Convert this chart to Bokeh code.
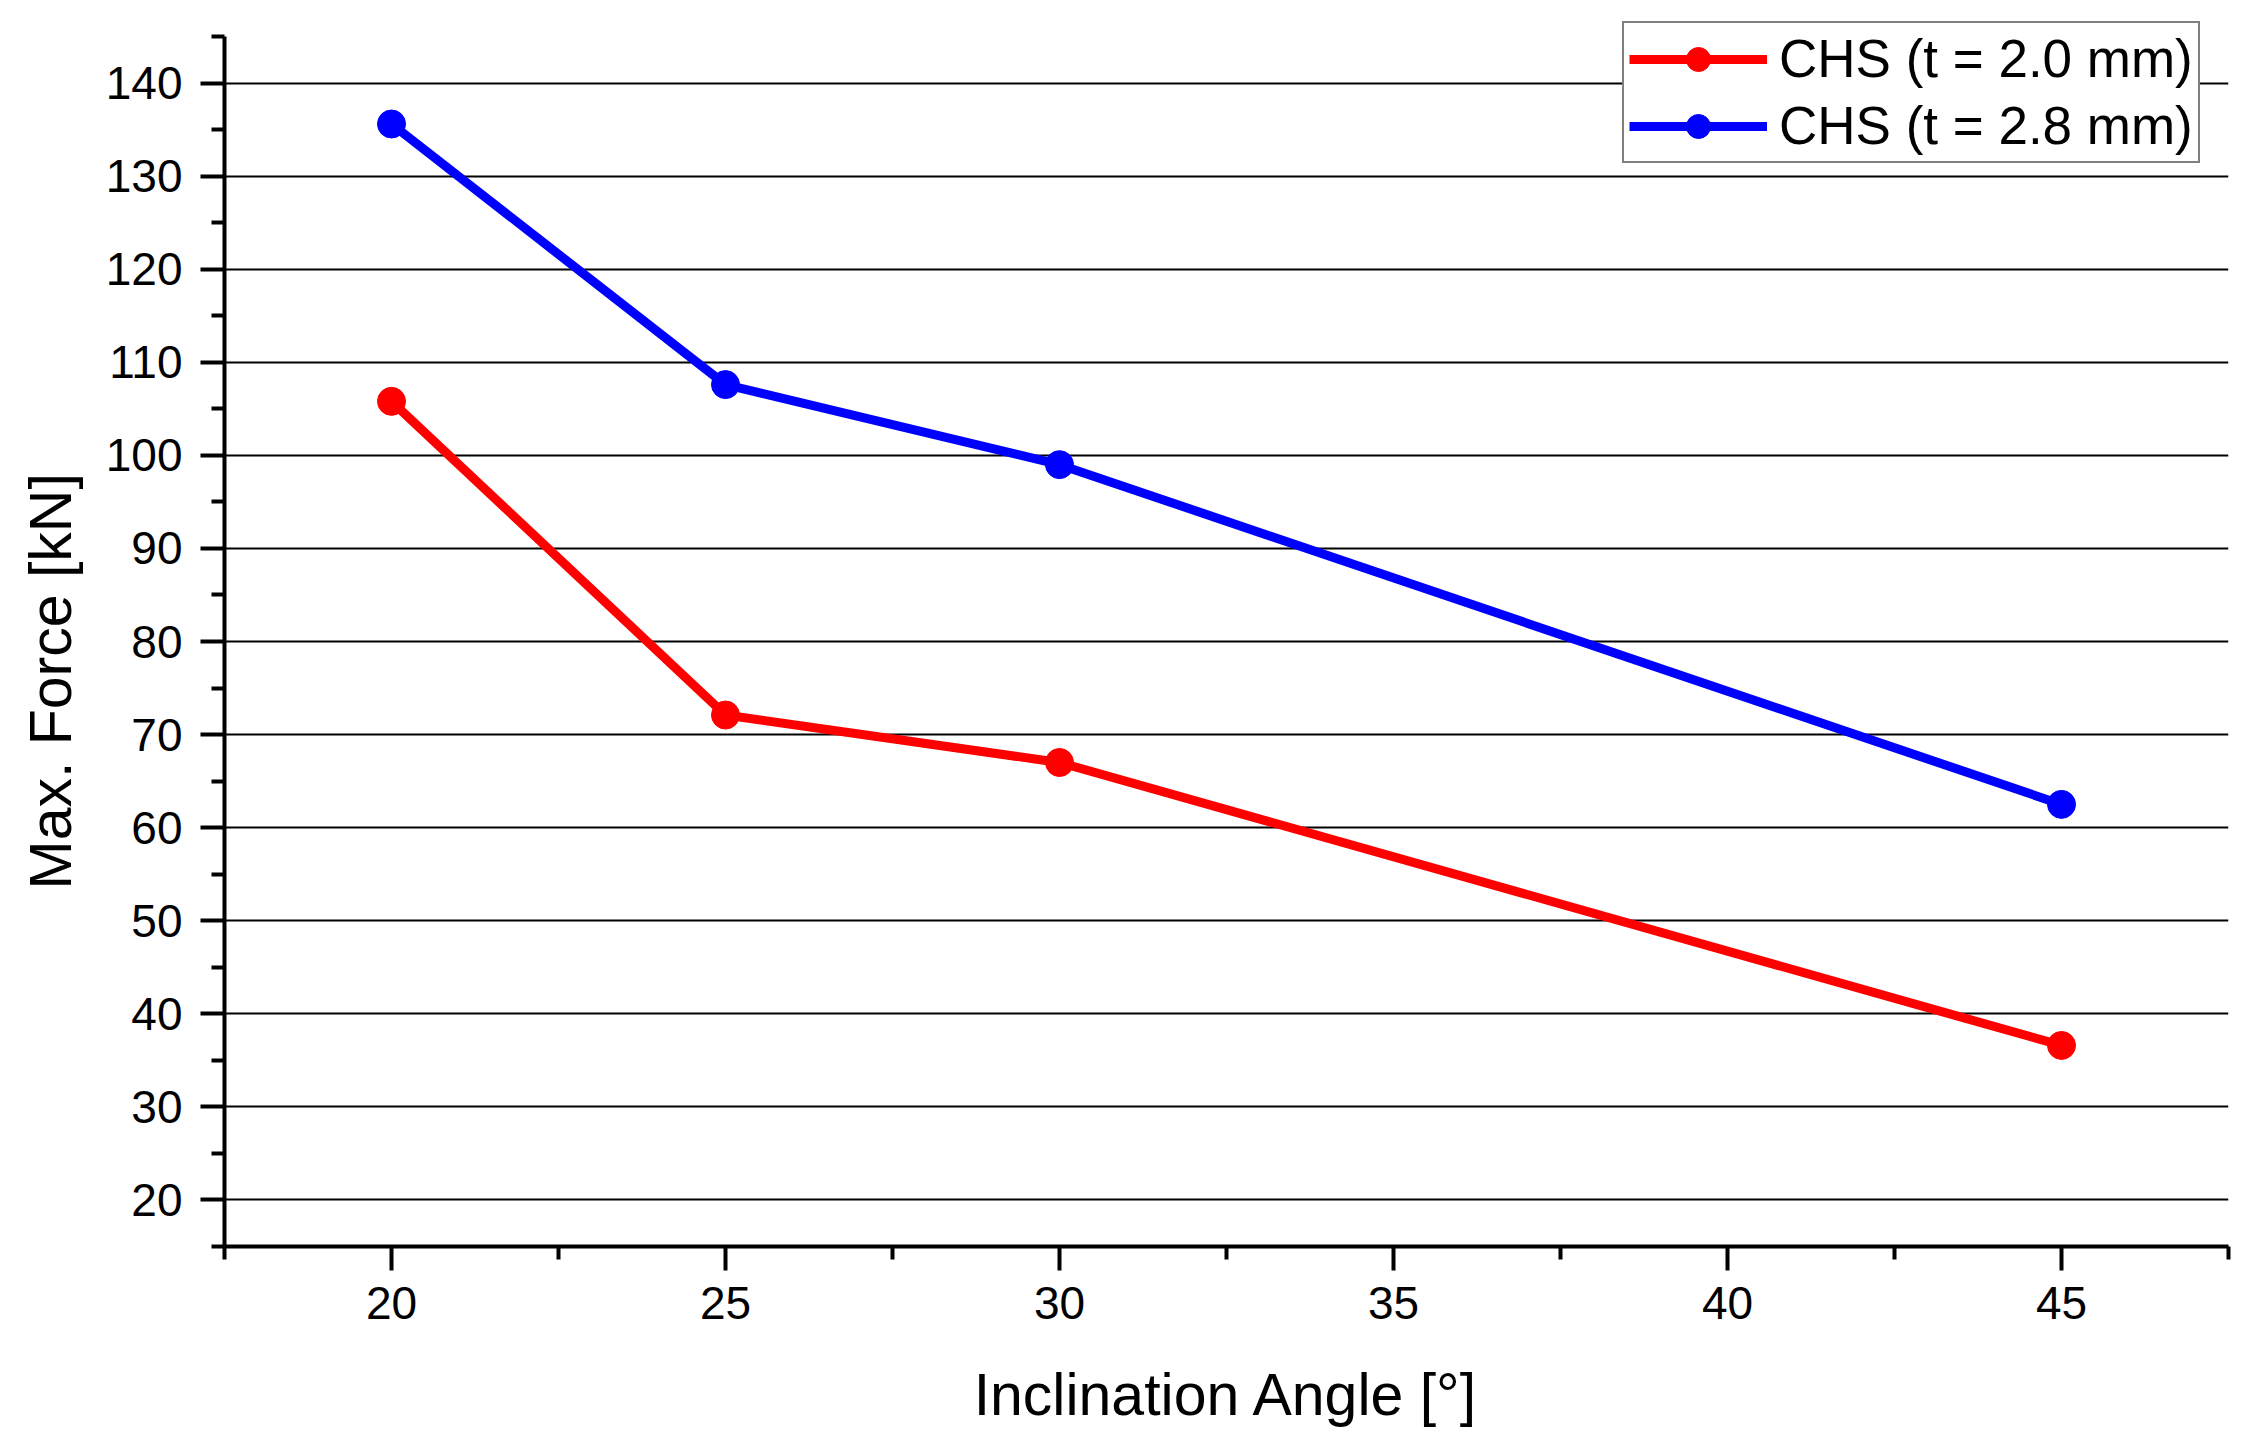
from bokeh.plotting import figure
from bokeh.models import Range1d, FixedTicker, Legend, LegendItem, Title
from bokeh.embed import file_html
from bokeh.resources import INLINE

angles = [20, 25, 30, 45]
force_t20 = [105.8, 72.1, 67.0, 36.6]
force_t28 = [135.6, 107.6, 99.0, 62.5]
series_labels = ["CHS (t = 2.0 mm)", "CHS (t = 2.8 mm)"]
x_label = "Inclination Angle [°]"
y_label = "Max. Force [kN]"
x_major = [20, 25, 30, 35, 40, 45]
x_minor = [17.5, 22.5, 27.5, 32.5, 37.5, 42.5, 47.5]
y_major = [20, 30, 40, 50, 60, 70, 80, 90, 100, 110, 120, 130, 140]
y_minor = [15, 25, 35, 45, 55, 65, 75, 85, 95, 105, 115, 125, 135, 145]

FONT = "Liberation Sans"

p = figure(width=2259, height=1440,
           x_range=Range1d(17.5, 47.5), y_range=Range1d(15, 146.72),
           output_backend="svg", toolbar_location=None,
           min_border_left=224, min_border_right=31,
           min_border_top=20, min_border_bottom=194)
p.outline_line_color = None
p.background_fill_color = "white"
p.border_fill_color = "white"

for ax, maj, mnr in ((p.xaxis[0], x_major, x_minor), (p.yaxis[0], y_major, y_minor)):
    ax.ticker = FixedTicker(ticks=maj, minor_ticks=mnr)
    ax.axis_line_width = 4
    ax.axis_line_color = "black"
    ax.major_tick_line_width = 4
    ax.minor_tick_line_width = 4
    ax.major_tick_line_color = "black"
    ax.minor_tick_line_color = "black"
    ax.major_tick_in = 0
    ax.minor_tick_in = 0
    ax.major_tick_out = 24
    ax.minor_tick_out = 13
    ax.major_label_text_font = FONT
    ax.major_label_text_font_size = "46px"
    ax.major_label_text_color = "black"
    ax.axis_label_text_font = FONT
    ax.axis_label_text_font_size = "59px"
    ax.axis_label_text_font_style = "normal"
    ax.axis_label_text_color = "black"

p.yaxis.bounds = (15, 145)
p.xaxis.axis_label = x_label
p.xaxis.major_label_standoff = 16
p.xaxis.axis_label_standoff = 40
p.yaxis.major_label_standoff = 18

# y-axis label as a side title so it can sit below the frame centre, as in the reference
ytitle = Title(text=y_label, align="left", offset=357, vertical_align="top",
               text_font=FONT, text_font_size="59px", text_font_style="normal",
               text_color="black", standoff=33)
p.add_layout(ytitle, "left")

p.xgrid.visible = False
p.ygrid.ticker = FixedTicker(ticks=y_major)
p.ygrid.grid_line_color = "black"
p.ygrid.grid_line_width = 2

r1 = p.line(angles, force_t20, line_color="#FF0000", line_width=9)
s1 = p.scatter(angles, force_t20, size=28, fill_color="#FF0000", line_color="#FF0000")
r2 = p.line(angles, force_t28, line_color="#0000FF", line_width=9)
s2 = p.scatter(angles, force_t28, size=28, fill_color="#0000FF", line_color="#0000FF")

legend = Legend(items=[LegendItem(label=series_labels[0], renderers=[r1, s1]),
                       LegendItem(label=series_labels[1], renderers=[r2, s2])],
                location=(1398, 1083))
legend.label_text_font = FONT
legend.label_text_font_size = "53px"
legend.label_text_color = "black"
legend.glyph_width = 138
legend.glyph_height = 60
legend.label_height = 60
legend.label_standoff = 12
legend.spacing = 6
legend.padding = 5
legend.margin = 0
legend.border_line_color = "black"
legend.border_line_width = 2
legend.background_fill_color = "white"
legend.background_fill_alpha = 1.0
p.add_layout(legend, "center")

open("out.html", "w").write(file_html(p, INLINE))
